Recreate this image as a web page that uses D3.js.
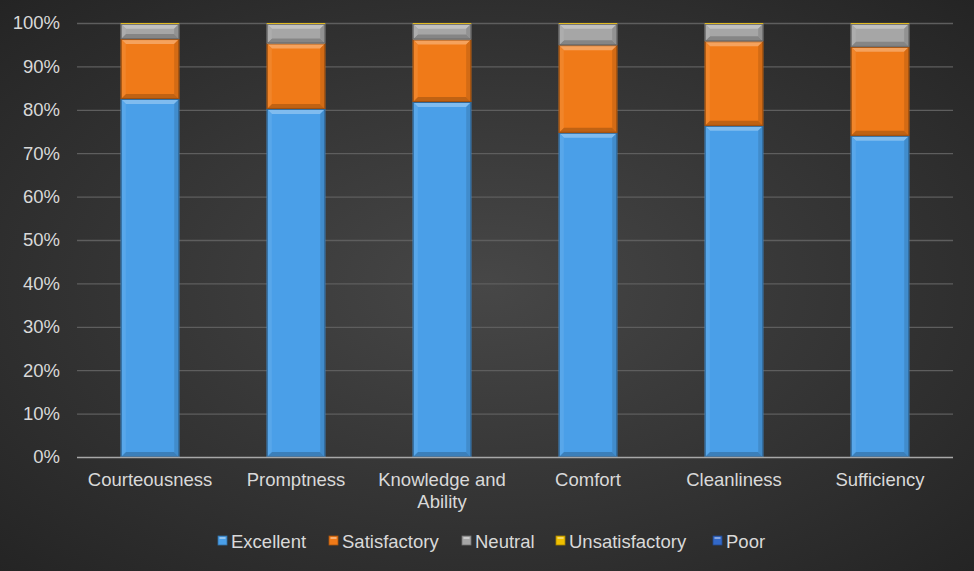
<!DOCTYPE html>
<html><head><meta charset="utf-8">
<script src="https://cdn.jsdelivr.net/npm/d3@7"></script>
<style>body{margin:0;background:#333;}svg{display:block;font-family:"Liberation Sans",Arial,sans-serif;}</style>
</head><body><svg id="c" width="974" height="571"></svg>
<script>
const categories = [["Courteousness"],["Promptness"],["Knowledge and","Ability"],["Comfort"],["Cleanliness"],["Sufficiency"]];
const seriesNames = ["Excellent","Satisfactory","Neutral","Unsatisfactory","Poor"];
const excellent = [82.5, 80.2, 81.8, 74.7, 76.3, 74.0];
const satisfactory = [13.8, 15.1, 14.4, 20.2, 19.5, 20.5];
const neutral = [3.5, 4.5, 3.6, 4.9, 4.0, 5.3];
const unsatisfactory = [0.2, 0.2, 0.2, 0.2, 0.2, 0.2];
const poor = [0, 0, 0, 0, 0, 0];
const yTicks = [0,10,20,30,40,50,60,70,80,90,100];
const colors = ["#4a9fe8","#f07a18","#a6a6a6","#f0c000","#3268c8"];

const svg = d3.select("#c");
const W=974,H=571;
const defs = svg.append("defs");
const rg = defs.append("radialGradient").attr("id","bg").attr("cx","50%").attr("cy","50%").attr("r","75%");
rg.append("stop").attr("offset","0%").attr("stop-color","#474747");
rg.append("stop").attr("offset","100%").attr("stop-color","#222");
svg.append("rect").attr("width",W).attr("height",H).attr("fill","url(#bg)");

const series = [excellent,satisfactory,neutral,unsatisfactory,poor];
const data = categories.map((c,i)=>{const o={cat:c.join(" ")};seriesNames.forEach((s,j)=>o[s]=series[j][i]);return o;});
const stack = d3.stack().keys(seriesNames).offset(d3.stackOffsetExpand)(data);

const x = d3.scaleBand().domain(data.map(d=>d.cat)).range([77,953]).paddingInner(0.6).paddingOuter(0.3);
const y = d3.scaleLinear().domain([0,1]).range([457,23]);

// grid
svg.append("g").selectAll("line").data(yTicks.slice(1)).join("line")
  .attr("x1",77).attr("x2",953).attr("y1",d=>y(d/100)+0.5).attr("y2",d=>y(d/100)+0.5)
  .attr("stroke","#5e5e5e").attr("stroke-width",1.3);

// y axis labels
const yAxis = d3.axisLeft(y).tickValues(yTicks.map(d=>d/100)).tickFormat(d=>Math.round(d*100)+"%").tickSize(0).tickPadding(0);
const ya = svg.append("g").attr("transform","translate(60,0)").call(yAxis);
ya.select(".domain").remove();
ya.selectAll("text").attr("fill","#d9d9d9").style("font-size","18.5px").attr("font-family","Liberation Sans, Arial, sans-serif");

function shade(c,k){return k>0?d3.interpolateRgb(c,"#fff")(k):d3.interpolateRgb(c,"#000")(-k);}

// bars with bevel
const bv=5;
stack.forEach((s,si)=>{
  const g = svg.append("g");
  s.forEach((d,i)=>{
    const x0=x(data[i].cat), w=x.bandwidth();
    const y0=y(d[1]), y1=y(d[0]);
    const h=y1-y0; if(h<=0.3) return;
    const c=colors[si];
    const b=Math.min(bv,h/2);
    g.append("rect").attr("x",x0).attr("y",y0).attr("width",w).attr("height",h).attr("fill",c);
    g.append("polygon").attr("points",[[x0,y0],[x0+w,y0],[x0+w-b,y0+b],[x0+b,y0+b]].join(" ")).attr("fill",shade(c,0.3));
    g.append("polygon").attr("points",[[x0,y1],[x0+w,y1],[x0+w-b,y1-b],[x0+b,y1-b]].join(" ")).attr("fill",shade(c,-0.2));
    g.append("polygon").attr("points",[[x0,y0],[x0+b,y0+b],[x0+b,y1-b],[x0,y1]].join(" ")).attr("fill",shade(c,0.08));
    g.append("polygon").attr("points",[[x0+w,y0],[x0+w-b,y0+b],[x0+w-b,y1-b],[x0+w,y1]].join(" ")).attr("fill",shade(c,-0.12));
    g.append("rect").attr("x",x0+0.5).attr("y",y0+0.5).attr("width",w-1).attr("height",h-1).attr("fill","none").attr("stroke",shade(c,-0.35)).attr("stroke-width",1);
  });
});

// baseline
svg.append("line").attr("x1",77).attr("x2",953).attr("y1",457.5).attr("y2",457.5).attr("stroke","#a8a8a8").attr("stroke-width",1.5);

// x labels
const xl = svg.append("g");
categories.forEach((c,i)=>{
  const cx = x(data[i].cat)+x.bandwidth()/2;
  const t = xl.append("text").attr("x",cx).attr("y",486).attr("text-anchor","middle")
    .attr("fill","#d9d9d9").style("font-size","18.5px");
  c.forEach((line,k)=>t.append("tspan").attr("x",cx).attr("dy",k?22:0).text(line));
});

// legend
const lg = svg.append("g");
const lx=[218,329,462,556,713];
seriesNames.forEach((s,i)=>{
  const gx=lx[i];
  lg.append("rect").attr("x",gx).attr("y",536).attr("width",9).attr("height",9).attr("fill",colors[i]).attr("stroke",shade(colors[i],-0.3)).attr("stroke-width",0.8);
  lg.append("rect").attr("x",gx+1.5).attr("y",537).attr("width",6).attr("height",2).attr("fill",shade(colors[i],0.4));
  lg.append("text").attr("x",gx+13).attr("y",548).attr("fill","#d9d9d9").style("font-size","18.5px").text(s);
});
</script></body></html>
